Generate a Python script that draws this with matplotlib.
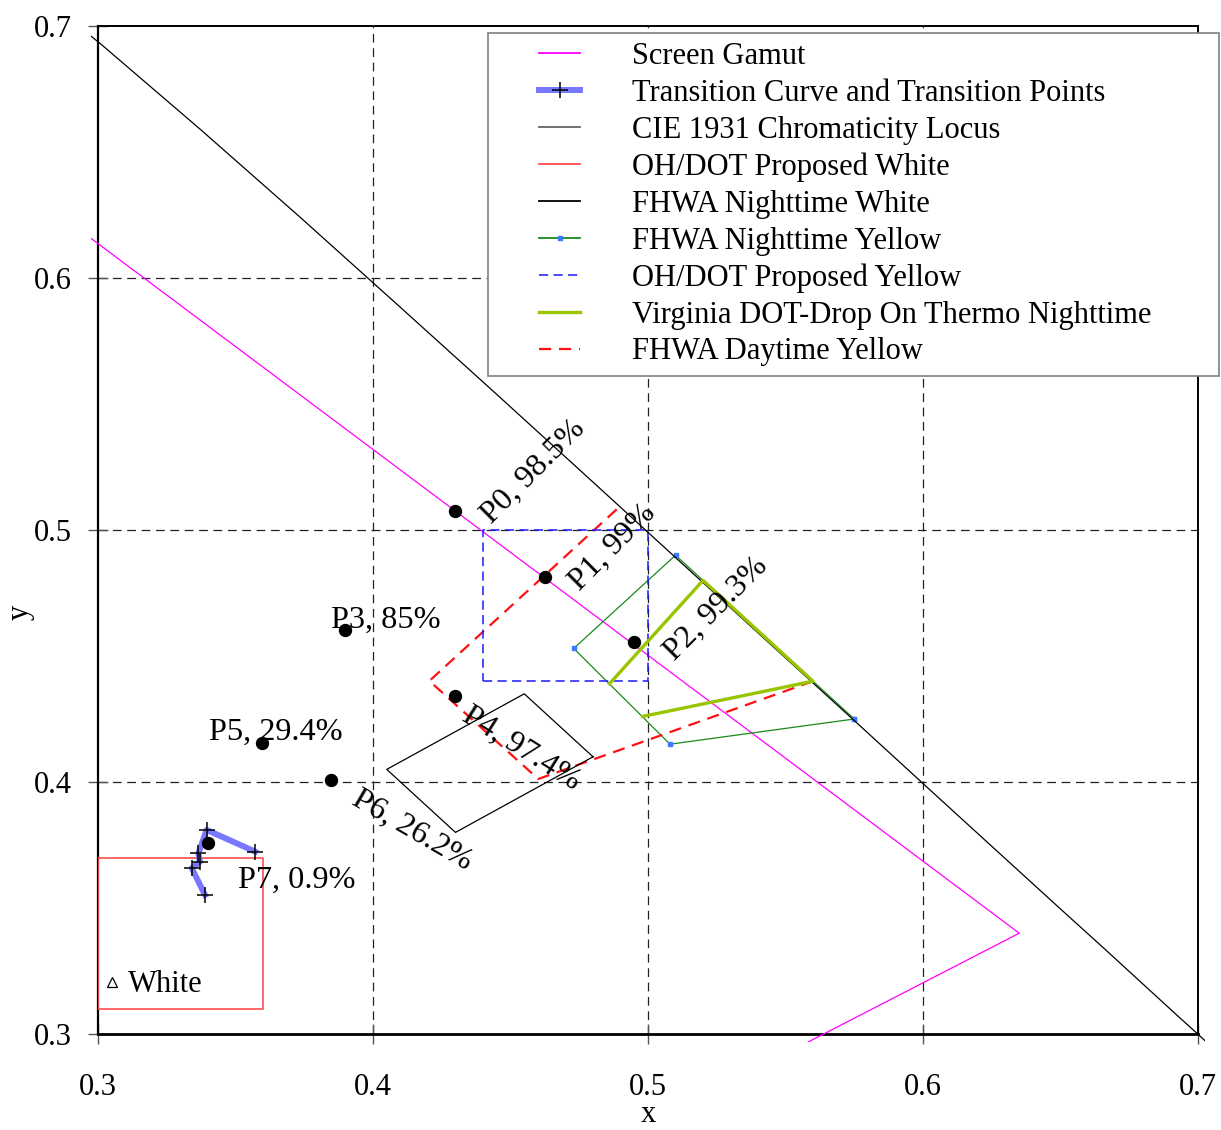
import matplotlib
matplotlib.use("Agg")
import matplotlib.pyplot as plt
from matplotlib.lines import Line2D
from matplotlib.patches import Rectangle
from matplotlib.legend_handler import HandlerLine2D

plt.rcParams['font.family'] = ['Liberation Serif', 'DejaVu Serif']
FS = 22.0      # axis / legend text
FS_LAB = 23.3  # point labels

# ---- data (CIE 1931 x, y chromaticity coordinates) ----
# spectrum locus, 545 nm .. 630 nm in 5 nm steps
locus_x = [0.2658, 0.3016, 0.3373, 0.3731, 0.4087, 0.4441, 0.4788, 0.5125, 0.5448,
           0.5752, 0.6029, 0.6270, 0.6482, 0.6658, 0.6801, 0.6915, 0.7006, 0.7079]
locus_y = [0.7243, 0.6923, 0.6589, 0.6245, 0.5896, 0.5547, 0.5202, 0.4866, 0.4544,
           0.4242, 0.3965, 0.3725, 0.3514, 0.3340, 0.3197, 0.3083, 0.2993, 0.2920]

# display gamut: green -> red -> blue primaries
gamut_x = [0.280, 0.635, 0.155]
gamut_y = [0.630, 0.340, 0.070]

# transition curve points
trans_x = [0.3389, 0.3341, 0.3371, 0.3365, 0.3395, 0.3571]
trans_y = [0.3552, 0.3658, 0.3684, 0.3717, 0.3810, 0.3724]

# OH/DOT proposed white box
ohw_x = [0.30, 0.36, 0.36, 0.30, 0.30]
ohw_y = [0.31, 0.31, 0.37, 0.37, 0.31]

# FHWA nighttime white
fnw_x = [0.480, 0.430, 0.405, 0.455, 0.480]
fnw_y = [0.410, 0.380, 0.405, 0.435, 0.410]

# FHWA nighttime yellow
fny_x = [0.575, 0.508, 0.473, 0.510, 0.575]
fny_y = [0.425, 0.415, 0.453, 0.490, 0.425]

# OH/DOT proposed yellow box
ohy_x = [0.44, 0.50, 0.50, 0.44, 0.44]
ohy_y = [0.44, 0.44, 0.50, 0.50, 0.44]

# Virginia DOT drop-on thermoplastic, nighttime
vdot_x = [0.498, 0.560, 0.520, 0.486]
vdot_y = [0.426, 0.440, 0.480, 0.439]

# FHWA daytime yellow
fdy_x = [0.560, 0.4601, 0.4205, 0.490]
fdy_y = [0.440, 0.4012, 0.4401, 0.5096]

# measured points
pt_names = ["P0", "P1", "P2", "P3", "P4", "P5", "P6", "P7"]
pt_pct = ["98.5%", "99%", "99.3%", "85%", "97.4%", "29.4%", "26.2%", "0.9%"]
pt_x = [0.4298, 0.4625, 0.4949, 0.3898, 0.4298, 0.3596, 0.3847, 0.3400]
pt_y = [0.5075, 0.4813, 0.4556, 0.4603, 0.4341, 0.4155, 0.4008, 0.3756]

# label anchors (baseline start) and rotation for each point label
lab_x = [0.4429, 0.4750, 0.5096, 0.3847, 0.4320, 0.3404, 0.3918, 0.3510]
lab_y = [0.5022, 0.4758, 0.4480, 0.4611, 0.4248, 0.4167, 0.3913, 0.3582]
lab_rot = [45, 45, 45, 0, -32, 0, -30, 0]

white_x, white_y = 0.3051, 0.3206

# ---- figure ----
fig = plt.figure(figsize=(12.21, 11.30), dpi=100)
ax = fig.add_axes([98 / 1221, 1 - 1034 / 1130, 1100 / 1221, 1008 / 1130])
ax.set_xlim(0.3, 0.7)
ax.set_ylim(0.3, 0.7)

# lines may run a few pixels past the plot frame
clip_rect = Rectangle((-0.0063, -0.0078), 1.0126, 1.0156, transform=ax.transAxes,
                      fill=False, visible=False)
ax.add_patch(clip_rect)

l_gamut, = ax.plot(gamut_x, gamut_y, color='#ff00ff', lw=0.9, zorder=3,
                   label='Screen Gamut')
l_gamut.set_clip_path(clip_rect)

l_trans, = ax.plot(trans_x, trans_y, color='#7878ff', lw=4.3, marker='+',
                   markersize=12, markeredgecolor='black', markeredgewidth=1.1,
                   zorder=6, label='Transition Curve and Transition Points')

l_fny, = ax.plot(fny_x, fny_y, color='#1a8a1a', lw=0.9, marker='s', markersize=2.6,
                 markerfacecolor='#3a7bff', markeredgecolor='#3a7bff', zorder=3,
                 label='FHWA Nighttime Yellow')

l_fdy, = ax.plot(fdy_x, fdy_y, color='#ff1010', lw=1.6, dashes=(5.5, 3.5), zorder=3,
                 label='FHWA Daytime Yellow')

l_locus, = ax.plot(locus_x, locus_y, color='black', lw=0.9, zorder=4,
                   label='CIE 1931 Chromaticity Locus')
l_locus.set_clip_path(clip_rect)

l_ohw, = ax.plot(ohw_x, ohw_y, color='#ff4d4d', lw=1.2, zorder=3,
                 label='OH/DOT Proposed White')
l_fnw, = ax.plot(fnw_x, fnw_y, color='black', lw=0.9, zorder=3,
                 label='FHWA Nighttime White')
l_ohy, = ax.plot(ohy_x, ohy_y, color='#1a1aff', lw=1.1, dashes=(6, 3.5), zorder=3,
                 label='OH/DOT Proposed Yellow')
l_vdot, = ax.plot(vdot_x, vdot_y, color='#99c400', lw=2.4, zorder=5,
                  label='Virginia DOT-Drop On Thermo Nighttime')

ax.plot(pt_x, pt_y, linestyle='none', marker='o', markersize=8.6, color='black',
        zorder=7)

for name, pct, x, y, r in zip(pt_names, pt_pct, lab_x, lab_y, lab_rot):
    ax.text(x, y, f"{name}, {pct}", fontsize=FS_LAB, rotation=r,
            rotation_mode='anchor', ha='left', va='baseline', zorder=8)

ax.plot([white_x], [white_y], linestyle='none', marker='^', markersize=7,
        markerfacecolor='white', markeredgecolor='black', markeredgewidth=0.9, zorder=7)
ax.text(0.3109, 0.3168, "White", fontsize=FS, ha='left', va='baseline', zorder=8)

# axes styling
ticks = [0.3, 0.4, 0.5, 0.6, 0.7]
ax.set_xticks(ticks)
ax.set_yticks(ticks)
ax.set_xticklabels(["0.3", "0.4", "0.5", "0.6", "0.7"])
ax.set_yticklabels(["0.3", "0.4", "0.5", "0.6", "0.7"])
ax.tick_params(axis='both', direction='inout', length=14.4, width=1.0,
               color='#555555', labelsize=FS)
ax.tick_params(axis='x', pad=20.9)
ax.tick_params(axis='y', pad=11.7)

for v in [0.4, 0.5, 0.6]:
    ax.axvline(v, color='#222222', lw=0.9, dashes=(7, 4.5), zorder=1)
    ax.axhline(v, color='#222222', lw=0.9, dashes=(7, 4.5), zorder=1)

for side, w in [('left', 1.6), ('bottom', 2.0), ('top', 1.4), ('right', 1.4)]:
    ax.spines[side].set_linewidth(w)
    ax.spines[side].set_color('black')
    ax.spines[side].set_zorder(2)

ax.set_xlabel('x', fontsize=FS)
ax.set_ylabel('y', fontsize=FS)
ax.xaxis.set_label_coords(0.5, -0.0655)
ax.yaxis.set_label_coords(-0.0573, 0.4187)

handles = [l_gamut, l_trans, l_locus, l_ohw, l_fnw, l_fny, l_ohy, l_vdot, l_fdy]
leg_l = (488 - 98) / 1100
leg_t = (1034 - 33) / 1008
leg_w = (1219 - 488) / 1100
leg_h = (372 - 33) / 1008
leg = ax.legend(handles=handles, loc='upper left',
                bbox_to_anchor=(leg_l, leg_t - leg_h, leg_w, leg_h),
                mode='expand', borderaxespad=0, fontsize=FS, numpoints=1,
                frameon=True, fancybox=False, framealpha=1, edgecolor='#808080',
                borderpad=0.3, labelspacing=0.255, handlelength=2.7,
                handletextpad=1.71,
                handler_map={Line2D: HandlerLine2D(xpad=1.38)})
leg.get_frame().set_linewidth(1.2)
leg.set_zorder(10)
# thicker legend keys for the thin series, grey key for the locus
for i in (0, 2, 3, 4, 5):
    leg.legend_handles[i].set_linewidth(1.3)
leg.legend_handles[2].set_color('#666666')

fig.savefig('out.png', dpi=100)
